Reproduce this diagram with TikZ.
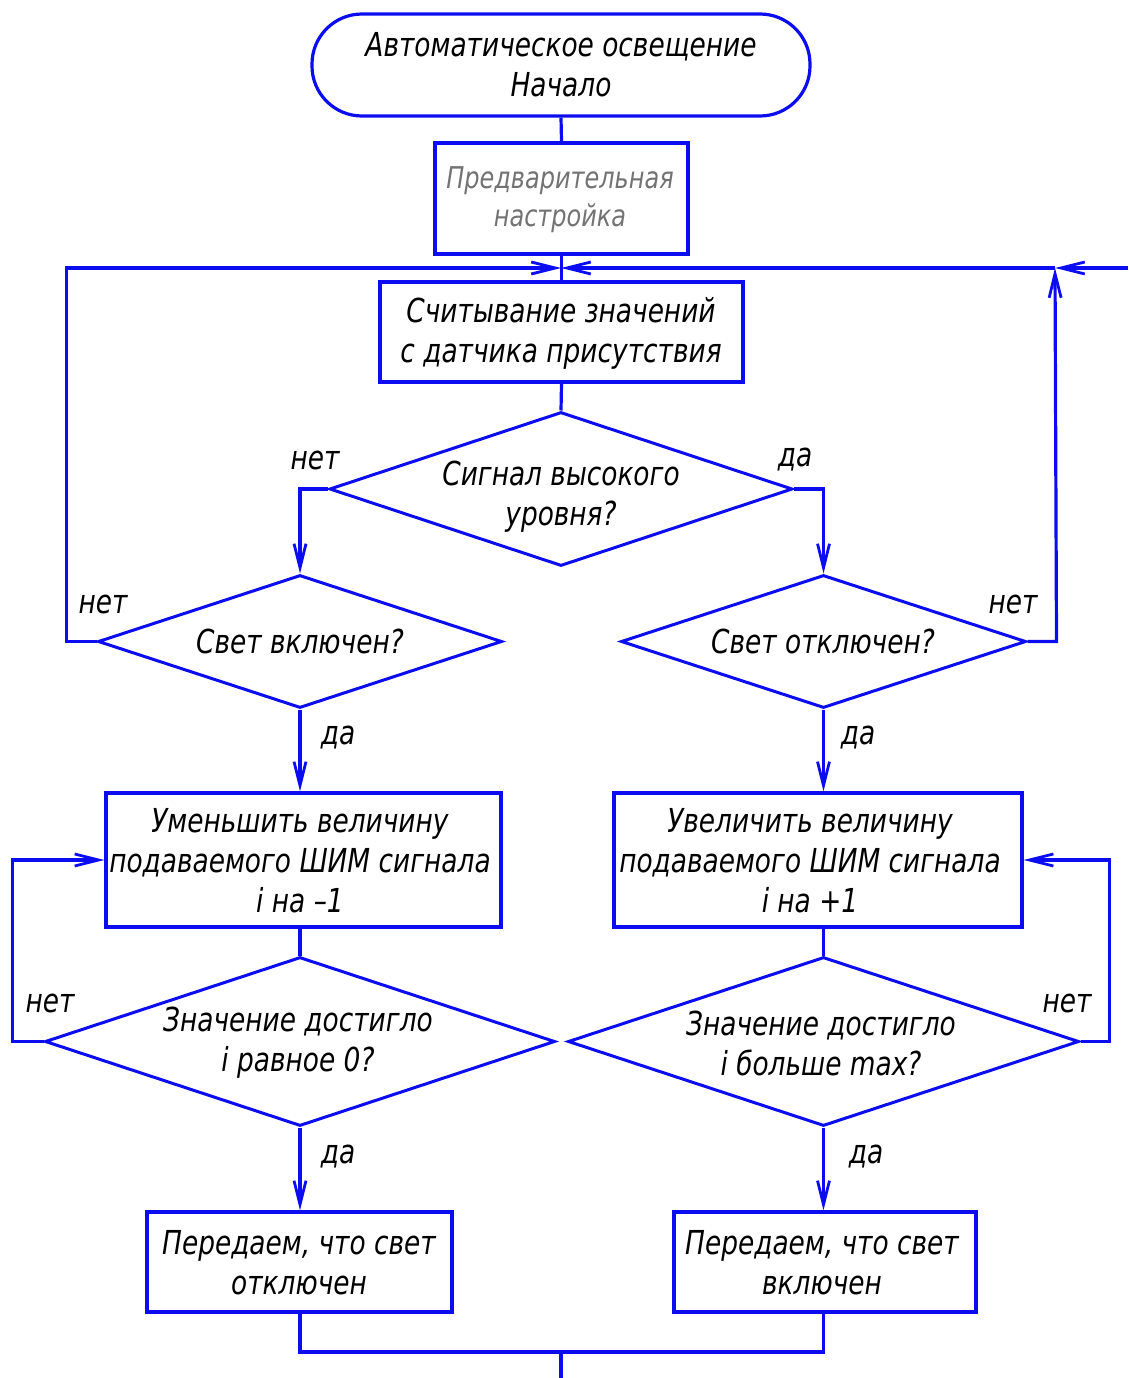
\documentclass[tikz,border=0pt]{standalone}
\usepackage{fontspec}
\setmainfont{DejaVu Sans}[FakeStretch=0.8]
\usetikzlibrary{shapes.geometric,arrows.meta}
\definecolor{lb}{RGB}{12,12,240}
\begin{document}
\begin{tikzpicture}[x=1pt,y=-1pt,
  blk/.style={draw=lb, line width=3.2pt, rectangle, inner sep=0pt},
  dia/.style={draw=lb, diamond, inner sep=0pt, line width=3pt},
  txt/.style={font=\fontsize{33}{40}\selectfont\itshape, align=center, text=black, inner sep=0pt},
  lbl/.style={font=\fontsize{33}{40}\selectfont\itshape, text=black, inner sep=0pt},
  ln/.style={draw=lb, line width=3.2pt},
  arr/.style={ln, -{Straight Barb[length=24pt,width=12pt,line width=2.8pt]}}
]
\useasboundingbox (0,0) rectangle (1128,1378);
% blocks
\node[blk, rounded corners=50pt, minimum width=498pt, minimum height=102pt] (term) at (561,65) {};
\node[txt] (termt) at (561,65) {Автоматическое освещение\\Начало};
\node[blk, minimum width=253pt, minimum height=111pt] (pre) at (561.5,198.5) {};
\node[txt, text=black!55, font=\fontsize{30}{38}\selectfont\itshape] (pret) at (560,200) {Предварительная\\настройка};
\node[blk, minimum width=363pt, minimum height=100pt] (read) at (561.5,332) {};
\node[txt] (readt) at (561,333) {Считывание значений\\с датчика присутствия};
\node[dia, minimum width=463pt, minimum height=154pt] (d1) at (561,489) {};
\node[txt] (d1t) at (561,497) {Сигнал высокого\\уровня?};
\node[dia, minimum width=404pt, minimum height=133pt] (d2L) at (300,641.5) {};
\node[txt] (d2Lt) at (300,641) {Свет включен?};
\node[dia, minimum width=405pt, minimum height=133pt] (d2R) at (823.5,641.5) {};
\node[txt] (d2Rt) at (823,641) {Свет отключен?};
\node[blk, minimum width=395pt, minimum height=134pt] (boxL) at (303.5,860) {};
\node[txt] (boxLt) at (300,861) {Уменьшить величину\\подаваемого ШИМ сигнала\\i на –1};
\node[blk, minimum width=408pt, minimum height=134pt] (boxR) at (818,860) {};
\node[txt] (boxRt) at (810,861) {Увеличить величину\\подаваемого ШИМ сигнала\\i на +1};
\node[dia, minimum width=510pt, minimum height=169pt] (d3L) at (300,1041.5) {};
\node[txt] (d3Lt) at (298,1043) {Значение достигло\\i равное 0?};
\node[dia, minimum width=511pt, minimum height=169pt] (d3R) at (823.5,1041.5) {};
\node[txt] (d3Rt) at (821,1043) {Значение достигло\\i больше max?};
\node[blk, minimum width=305pt, minimum height=100pt] (botL) at (299.5,1262) {};
\node[txt] (botLt) at (299,1263) {Передаем, что свет\\отключен};
\node[blk, minimum width=302pt, minimum height=100pt] (botR) at (825,1262) {};
\node[txt] (botRt) at (822,1263) {Передаем, что свет\\включен};
% labels
\node[lbl] (n1) at (315,460) {нет};
\node[lbl] (y1) at (795,460) {да};
\node[lbl] (n2) at (103,604) {нет};
\node[lbl] (n3) at (1013,604) {нет};
\node[lbl] (y2) at (338,738) {да};
\node[lbl] (y3) at (858,738) {да};
\node[lbl] (n4) at (50,1003) {нет};
\node[lbl] (n5) at (1067,1003) {нет};
\node[lbl] (y4) at (338,1157) {да};
\node[lbl] (y5) at (866,1157) {да};
% coordinates
\coordinate (jn) at (561,268);
\coordinate (loopR) at (1055,268);
\coordinate (edgeR) at (1128,268);
\coordinate (jb) at (561,1352);
\coordinate (edgeB) at (561,1378);
% connectors
\draw[ln] (term.south) -- (pre.north);
\draw[ln] (pre.south) -- (read.north);
\draw[ln] (read.south) -- (d1.north);
\draw[arr] (d1.west) -| (d2L.north);
\draw[arr] (d1.east) -| (d2R.north);
\draw[arr] (d2L.west) -- ++(-30,0) |- (jn);
\draw[arr] (d2R.east) -- ++(29,0) -- (loopR);
\draw[arr] (edgeR) -- (loopR);
\draw[arr] (loopR) -- (jn);
\draw[arr] (d2L.south) -- (d2L.south |- boxL.north);
\draw[arr] (d2R.south) -- (d2R.south |- boxR.north);
\draw[ln] (d3L.north |- boxL.south) -- (d3L.north);
\draw[ln] (d3R.north |- boxR.south) -- (d3R.north);
\draw[arr] (d3L.west) -- ++(-31,0) |- (boxL.west);
\draw[arr] (d3R.east) -- ++(29,0) |- (boxR.east);
\draw[arr] (d3L.south) -- (d3L.south |- botL.north);
\draw[arr] (d3R.south) -- (d3R.south |- botR.north);
\draw[ln] (d3L.south |- botL.south) |- (jb) -| (d3R.south |- botR.south);
\draw[ln] (jb) -- (edgeB);
\end{tikzpicture}
\end{document}
